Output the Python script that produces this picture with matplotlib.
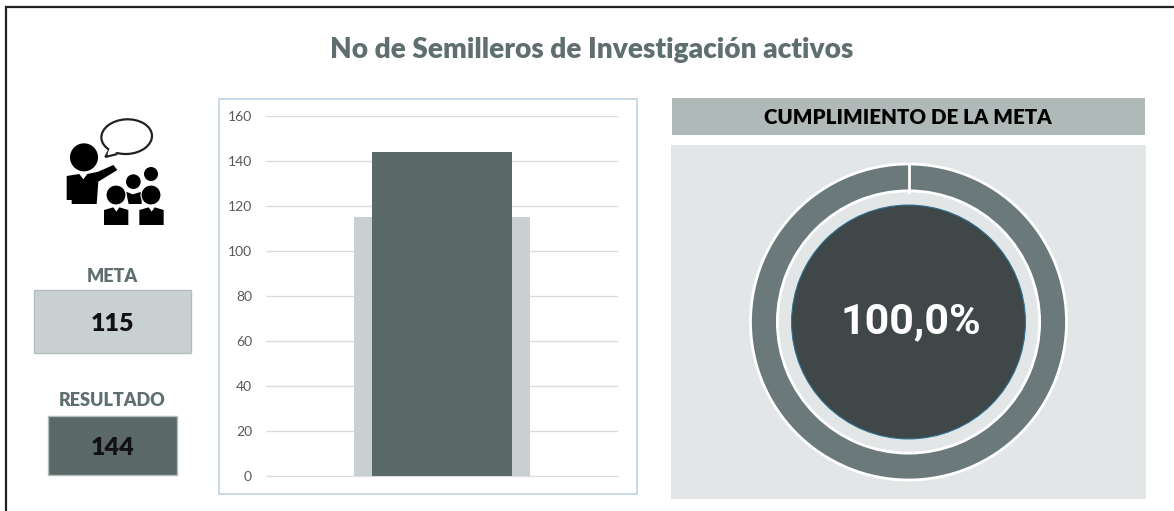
# coding: UTF-8
# Semilleros de investigacion - meta vs resultado + cumplimiento.
import matplotlib
matplotlib.use("Agg")
import matplotlib.pyplot as plt
from matplotlib.patches import Circle, Ellipse, Polygon, Rectangle

W, H = 1174, 511

title = "No de Semilleros de Investigación activos"
meta = 115
resultado = 144
cumplimiento = 100.0
yticks = [0, 20, 40, 60, 80, 100, 120, 140, 160]

GREY_DARK = "#5b6868"
GREY_LIGHT = "#c9d0d2"
TEXT_GREY = "#5f6e6e"

plt.rcParams["font.family"] = ["Lato", "DejaVu Sans"]

fig = plt.figure(figsize=(W / 100, H / 100), dpi=100)


def px_axes(x0, y0, x1, y1, **kw):
    '''Axes from pixel box, y measured from the top.'''
    return fig.add_axes([x0 / W, 1 - y1 / H, (x1 - x0) / W, (y1 - y0) / H], **kw)


# background layer in pixel coords
bg = px_axes(0, 0, W, H)
bg.set_xlim(0, W)
bg.set_ylim(H, 0)
bg.axis("off")

# only the top and left edges of the outer frame are in the picture
bg.plot([6, 6, W], [H, 7, 7], color="#222222", lw=1.6, solid_joinstyle="miter")
bg.text(592, 50, title, ha="center", va="center", fontsize=20.2, fontweight="heavy", color=TEXT_GREY)


def box(x0, y0, x1, y1, color, label, value, label_y):
    bg.add_patch(Rectangle((x0, y0), x1 - x0, y1 - y0, fc=color, ec="#b4bcbc", lw=1))
    bg.text((x0 + x1) / 2, label_y, label, ha="center", va="center", fontsize=13,
            fontweight="heavy", color=TEXT_GREY)
    bg.text((x0 + x1) / 2, (y0 + y1) / 2 + 2.5, str(value), ha="center", va="center", fontsize=18,
            fontweight="heavy", color="#111111")


box(34, 290, 191, 353, GREY_LIGHT, "META", meta, 277)
box(48, 416, 177, 475, GREY_DARK, "RESULTADO", resultado, 401)


# icon
def ipt(x, y):
    return (30 + x / 3, 100 + y / 3)


def icon_poly(points):
    bg.add_patch(Polygon([ipt(*p) for p in points], closed=True, fc="black", ec="none"))


def icon_head(x, y, r, edge=None):
    bg.add_patch(Circle(ipt(x, y), r / 3, fc="black", ec=edge or "none", lw=0.8))


icon_head(162, 172, 42)
icon_poly([(110, 228), (148, 222), (160, 238), (172, 222), (205, 215), (250, 195), (262, 210),
           (205, 245), (200, 312), (125, 312), (125, 300), (110, 300)])
# bubble
bg.add_patch(Ellipse(ipt(290, 110), 152 / 3, 104 / 3, angle=-3, fc="white", ec="#222222", lw=1.6, zorder=3))
bg.add_patch(Polygon([ipt(240, 145), ipt(226, 171), ipt(262, 162)], closed=False, fc="white",
                     ec="#222222", lw=1.6, zorder=4))
bg.add_patch(Polygon([ipt(240, 140), ipt(232, 164), ipt(268, 154)], closed=True, fc="white", ec="none", zorder=5))
# students
icon_head(363, 222, 21)
icon_head(310, 245, 22)
icon_poly([(288, 275), (308, 283), (335, 275), (335, 312), (296, 312)])
for dx in (0, 106):
    icon_poly([(222 + dx, 330), (250 + dx, 322), (259 + dx, 335), (268 + dx, 322), (295 + dx, 330),
               (295 + dx, 375), (222 + dx, 375)])
icon_head(258, 285, 30, edge="white")
icon_head(363, 285, 30, edge="white")

# bar chart frame
bg.add_patch(Rectangle((219, 99), 418, 395, fc="white", ec="#c5d5e4", lw=1.3))
ax = px_axes(266, 116, 618, 476)
ax.patch.set_alpha(0)
ax.bar([0], [meta], width=0.5, color=GREY_LIGHT, zorder=2)
ax.bar([0], [resultado], width=0.4, color=GREY_DARK, zorder=3)
ax.set_xlim(-0.5, 0.5)
ax.set_ylim(0, 160)
ax.set_yticks(yticks)
ax.set_xticks([])
ax.tick_params(axis="y", length=0, pad=10, labelsize=10, labelcolor="#595959")
for lab in ax.get_yticklabels():
    lab.set_verticalalignment("center_baseline")
ax.grid(axis="y", color="#dcdcdc", lw=1, zorder=1)
for s in ("top", "left", "right"):
    ax.spines[s].set_visible(False)
ax.spines["bottom"].set_color("#dcdcdc")

# cumplimiento panel
bg.add_patch(Rectangle((672, 98), 473, 37, fc="#aeb9b8", ec="none"))
bg.text(908, 117, "CUMPLIMIENTO DE LA META", ha="center", va="center", fontsize=14.8,
        fontweight="heavy", color="black")
bg.add_patch(Rectangle((671, 145), 475, 354, fc="#e3e6e7", ec="none"))

cx, cy, R = 908.5, 322, 158
dn = px_axes(cx - R, cy - R, cx + R, cy + R)
dn.pie([cumplimiento], radius=1, startangle=90, counterclock=False, colors=["#6b797b"],
       wedgeprops=dict(width=0.17, edgecolor="white", linewidth=2))
# a full wedge has no radial edge, the seam at the top is drawn by hand
dn.plot([0, 0], [0.82, 1], color="white", lw=2)
dn.add_patch(Circle((0, 0), 0.74, fc="#3f4748", ec="#2f6f8f", lw=0.8))
dn.set_xlim(-1, 1)
dn.set_ylim(-1, 1)
dn.text(0.012, 0.004, f"{cumplimiento:.1f}%".replace(".", ","), ha="center", va="center",
        family="Roboto", fontweight="bold", fontsize=31, color="white")

fig.savefig("out.png", dpi=100)
